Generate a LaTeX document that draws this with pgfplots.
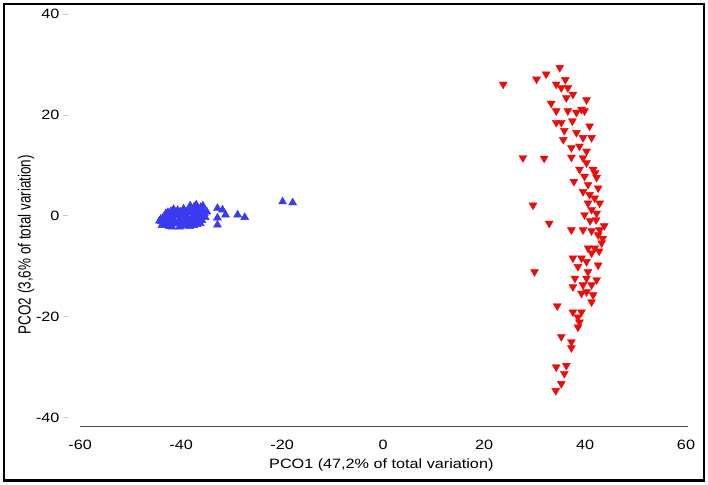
\documentclass[border=0pt]{standalone}
\usepackage{graphicx}
\usepackage{fontspec}
\setmainfont{Liberation Sans}
\usepackage{pgfplots}
\pgfplotsset{compat=1.18}
\definecolor{redm}{RGB}{236,12,12}
\definecolor{bluem}{RGB}{58,58,240}
\newcommand{\hs}[1]{\scalebox{1.2}[1]{#1}}
\begin{document}
\begin{tikzpicture}
\useasboundingbox (0,0) rectangle (708pt,484pt);
\begin{axis}[
  at={(68pt,58pt)}, anchor=south west,
  scale only axis, width=618pt, height=411.8pt,
  xmin=-62.4, xmax=60, ymin=-41.7, ymax=40,
  clip=false,
  axis lines=left, axis line style={draw=none},
  font=\fontsize{13.5}{16}\selectfont,
  xtick={-60,-40,-20,0,20,40,60},
  xticklabels={\hs{-60},\hs{-40},\hs{-20},\hs{0},\hs{20},\hs{40},\hs{60}},
  ytick={-40,-20,0,20,40},
  yticklabels={\hs{-40},\hs{-20},\hs{0},\hs{20},\hs{40}},
  tick align=outside, major tick length=5pt,
  x tick style={draw=none},
  y tick style={draw=gray!40, line width=0.8pt},
  xticklabel style={anchor=base, yshift=-18.5pt},
  yticklabel style={anchor=east},
  xlabel={\hs{PCO1 (47,2\% of total variation)}},
  ylabel={\scalebox{1}[1.3]{PCO2 (3,6\% of total variation)}},
  every axis x label/.style={at={(axis description cs:0.507,-0.1044)}, anchor=base},
  every axis y label/.style={at={(axis description cs:-0.068,0.44)}, rotate=90, anchor=center},
]
\draw[color=black!70, line width=0.7pt] (axis cs:-60,-41.7) -- (axis cs:60.3,-41.7);
\addplot[only marks, mark=triangle*, mark size=4.6pt, mark options={draw=bluem, fill=bluem}] coordinates {
(-44.3,-1.0) (-43.8,-1.9) (-43.5,-0.3) (-43.0,0.5) (-42.6,-1.2) (-42.3,-2.1)
(-42.0,0.9) (-41.7,-0.5) (-41.3,0.2) (-41.0,-1.6) (-40.7,1.1) (-40.4,-0.8)
(-40.0,-2.0) (-39.8,0.4) (-39.5,1.4) (-39.2,-1.3) (-38.9,-0.2) (-38.6,1.0)
(-38.3,-2.1) (-38.0,0.6) (-37.7,-1.0) (-37.4,1.8) (-37.1,0.0) (-36.8,-1.7)
(-36.6,1.3) (-36.3,0.5) (-36.0,-0.7) (-35.7,2.0) (-35.5,1.0) (-35.2,-0.3)
(-34.9,0.8) (-40.9,0.0) (-42.8,-0.6) (-39.0,-1.9) (-37.9,-0.4) (-36.2,-1.5)
(-41.5,1.3) (-38.2,2.0) (-43.2,-1.4) (-35.8,0.2)
(-44.0,-0.6) (-43.6,-1.5) (-42.9,-1.9) (-42.4,0.2) (-42.1,-1.0) (-41.8,-2.2)
(-41.4,-1.1) (-41.1,0.7) (-40.6,-1.3) (-40.2,0.8) (-39.9,-0.5) (-39.6,-1.7)
(-39.3,0.9) (-39.0,0.1) (-38.7,-1.0) (-38.4,1.5) (-38.1,-1.5) (-37.8,1.1)
(-37.5,-1.9) (-37.2,0.6) (-36.9,-0.6) (-36.5,-1.2) (-36.1,1.7) (-35.9,-0.9)
(-35.4,0.5) (-37.0,2.2) (-40.3,-2.2) (-43.9,-1.1) (-42.6,0.7) (-39.7,0.0)
(-32.8,1.5) (-31.8,1.2) (-31.2,0.2) (-32.8,-0.4) (-32.8,-1.8)
(-28.8,0.2) (-27.4,-0.3) (-19.9,2.8) (-17.9,2.6)
};
\addplot[only marks, mark=triangle*, mark size=4.6pt, mark options={draw=redm, fill=redm, rotate=180}] coordinates {
(35.0,29.4) (32.3,28.1) (30.4,27.1) (23.8,26.1) (36.1,27.0) (34.3,26.1)
(35.3,25.4) (36.6,25.4) (37.6,24.1) (36.3,23.4) (40.3,23.0) (33.3,22.3)
(34.3,20.8) (36.6,20.8) (38.3,20.5) (39.3,21.1) (39.9,20.8) (34.3,18.5)
(35.3,18.5) (37.5,18.8) (40.9,17.8) (35.9,16.9) (38.3,16.5) (39.6,15.5)
(41.3,15.5) (35.7,15.1) (37.3,13.5) (38.9,13.8)
(27.7,11.5) (31.9,11.4) (40.3,12.8) (37.3,11.6) (39.6,11.5) (40.3,10.5)
(38.9,9.2) (41.6,9.2) (39.9,7.8) (42.3,7.6) (37.8,6.8) (40.6,6.2)
(39.6,4.8) (42.6,5.5) (40.9,4.2) (41.9,3.5) (40.6,2.5) (42.9,2.5)
(29.7,2.1) (41.3,1.2) (39.9,0.2) (42.3,0.5) (32.9,-1.5) (37.3,-2.8)
(39.6,-2.8) (41.3,-3.0) (42.9,-2.8)
(42.6,-3.8) (43.3,-5.4) (41.9,-6.4) (40.6,-6.4) (41.3,-7.4) (37.6,-8.4)
(39.3,-8.4) (40.3,-9.1) (42.6,-9.8) (38.6,-10.1) (30.0,-11.1) (40.6,-11.1)
(38.0,-12.4) (40.3,-12.4) (42.3,-12.7) (39.6,-13.7) (37.6,-14.1) (41.3,-13.7)
(40.3,-15.1) (39.3,-15.4) (41.6,-15.7) (41.3,-17.1) (34.5,-17.9) (37.6,-19.1)
(39.3,-19.1) (38.6,-20.1)
(38.9,-21.1) (38.6,-22.1) (35.3,-24.0) (37.3,-25.0) (37.3,-26.2) (34.3,-30.0)
(36.3,-29.7) (35.9,-31.3) (35.3,-33.3) (34.2,-34.7)
(42.0,8.5) (41.0,-1.0) (43.5,-4.5) (42.8,-7.0) (43.8,-2.0) (42.2,-0.8)
};
\end{axis}
\draw[line width=2.2pt] (4pt,3.6pt) rectangle (704pt,480pt);
\end{tikzpicture}
\end{document}
